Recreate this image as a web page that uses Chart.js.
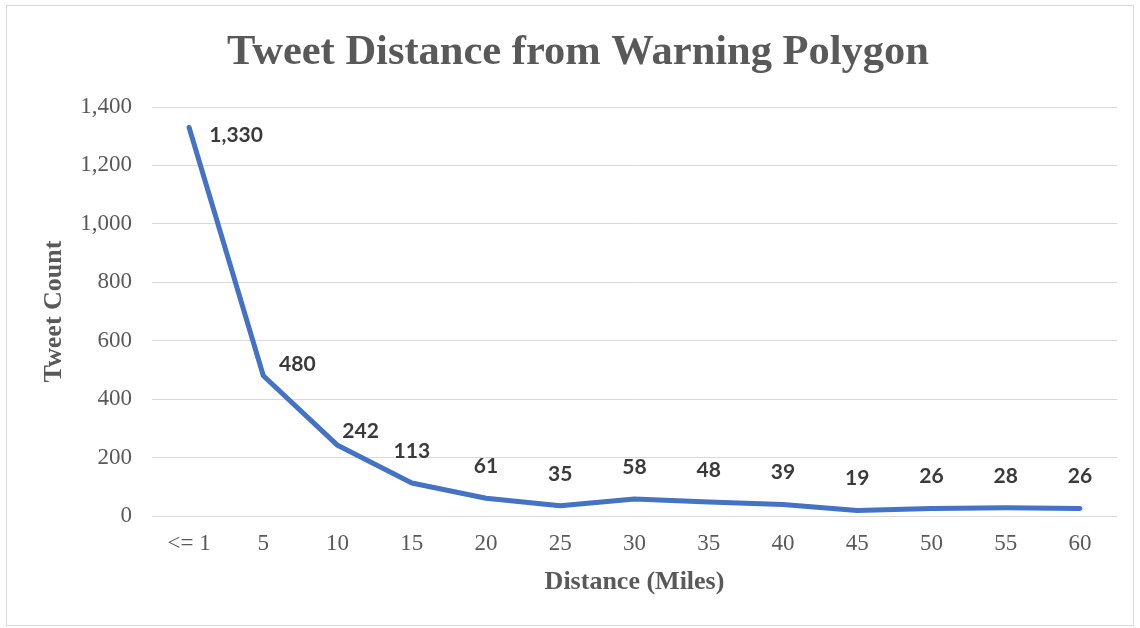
<!DOCTYPE html>
<html>
<head>
<meta charset="utf-8">
<script src="https://cdn.jsdelivr.net/npm/chart.js@4/dist/chart.umd.min.js"></script>
<style>
  html, body { margin: 0; padding: 0; background: #ffffff; }
  #wrap { width: 1140px; height: 628px; position: relative; }
</style>
</head>
<body>
<div id="wrap"><canvas id="chart" width="1140" height="628"></canvas></div>
<script>
// Tweet counts binned by distance from the warning polygon
const distanceLabels = ['<= 1', '5', '10', '15', '20', '25', '30', '35', '40', '45', '50', '55', '60'];
const tweetCounts = [1330, 480, 242, 113, 61, 35, 58, 48, 39, 19, 26, 28, 26];
const yTicks = { min: 0, max: 1400, step: 200 };

const GREY_TEXT = '#595959';
const SERIF = '"Liberation Serif", "Times New Roman", serif';

// Light frame around the whole chart
const framePlugin = {
  id: 'frame',
  beforeDraw(chart) {
    const ctx = chart.ctx;
    ctx.save();
    ctx.fillStyle = '#ffffff';
    ctx.fillRect(0, 0, chart.width, chart.height);
    ctx.strokeStyle = '#D9D9D9';
    ctx.lineWidth = 1;
    ctx.strokeRect(6.5, 5.5, chart.width - 13, chart.height - 8);
    ctx.restore();
  }
};

// Value labels next to each point
const valueLabelPlugin = {
  id: 'valueLabels',
  afterDatasetsDraw(chart) {
    const ctx = chart.ctx;
    const meta = chart.getDatasetMeta(0);
    const values = chart.data.datasets[0].data;
    const shift = [[47, 8], [34, -12], [23, -14]];
    ctx.save();
    ctx.font = 'bold 21px Lato, "Open Sans", sans-serif';
    ctx.fillStyle = '#3A3A3A';
    ctx.textAlign = 'center';
    ctx.textBaseline = 'middle';
    meta.data.forEach((pt, i) => {
      const [dx, dy] = shift[i] || [0, -32];
      ctx.fillText(values[i].toLocaleString('en-US'), pt.x + dx, pt.y + dy);
    });
    ctx.restore();
  }
};

new Chart(document.getElementById('chart'), {
  type: 'line',
  data: {
    labels: distanceLabels,
    datasets: [{
      data: tweetCounts,
      borderColor: '#4472C4',
      borderWidth: 5,
      borderCapStyle: 'round',
      borderJoinStyle: 'round',
      pointRadius: 0,
      pointHoverRadius: 0,
      tension: 0,
      fill: false
    }]
  },
  options: {
    responsive: false,
    animation: false,
    devicePixelRatio: 1,
    layout: { padding: { left: 39, right: 23, top: 0, bottom: 30 } },
    plugins: {
      legend: { display: false },
      tooltip: { enabled: false },
      title: {
        display: true,
        text: 'Tweet Distance from Warning Polygon',
        color: GREY_TEXT,
        font: { family: SERIF, size: 42.5, weight: 'bold', lineHeight: 1.2 },
        padding: { top: 28, bottom: 28 }
      }
    },
    scales: {
      x: {
        offset: true,
        grid: { display: false, drawTicks: false },
        border: { display: false },
        ticks: {
          color: GREY_TEXT,
          font: { family: SERIF, size: 23 },
          padding: 14,
          maxRotation: 0,
          autoSkip: false
        },
        title: {
          display: true,
          text: 'Distance (Miles)',
          color: GREY_TEXT,
          font: { family: SERIF, size: 26, weight: 'bold', lineHeight: 1.2 },
          padding: { top: 0, bottom: 0 }
        },
        afterFit(scale) { scale.height = 82; }
      },
      y: {
        min: yTicks.min,
        max: yTicks.max,
        grid: { color: '#D9D9D9', lineWidth: 1, drawTicks: false },
        border: { display: false },
        ticks: {
          stepSize: yTicks.step,
          color: GREY_TEXT,
          font: { family: SERIF, size: 23 },
          padding: 20,
          callback: v => v.toLocaleString('en-US')
        },
        title: {
          display: true,
          text: 'Tweet Count',
          color: GREY_TEXT,
          font: { family: SERIF, size: 26, weight: 'bold', lineHeight: 1.2 },
          padding: { top: 0, bottom: 0 }
        },
        afterFit(scale) { scale.width = 113; }
      }
    }
  },
  plugins: [framePlugin, valueLabelPlugin]
});
</script>
</body>
</html>
